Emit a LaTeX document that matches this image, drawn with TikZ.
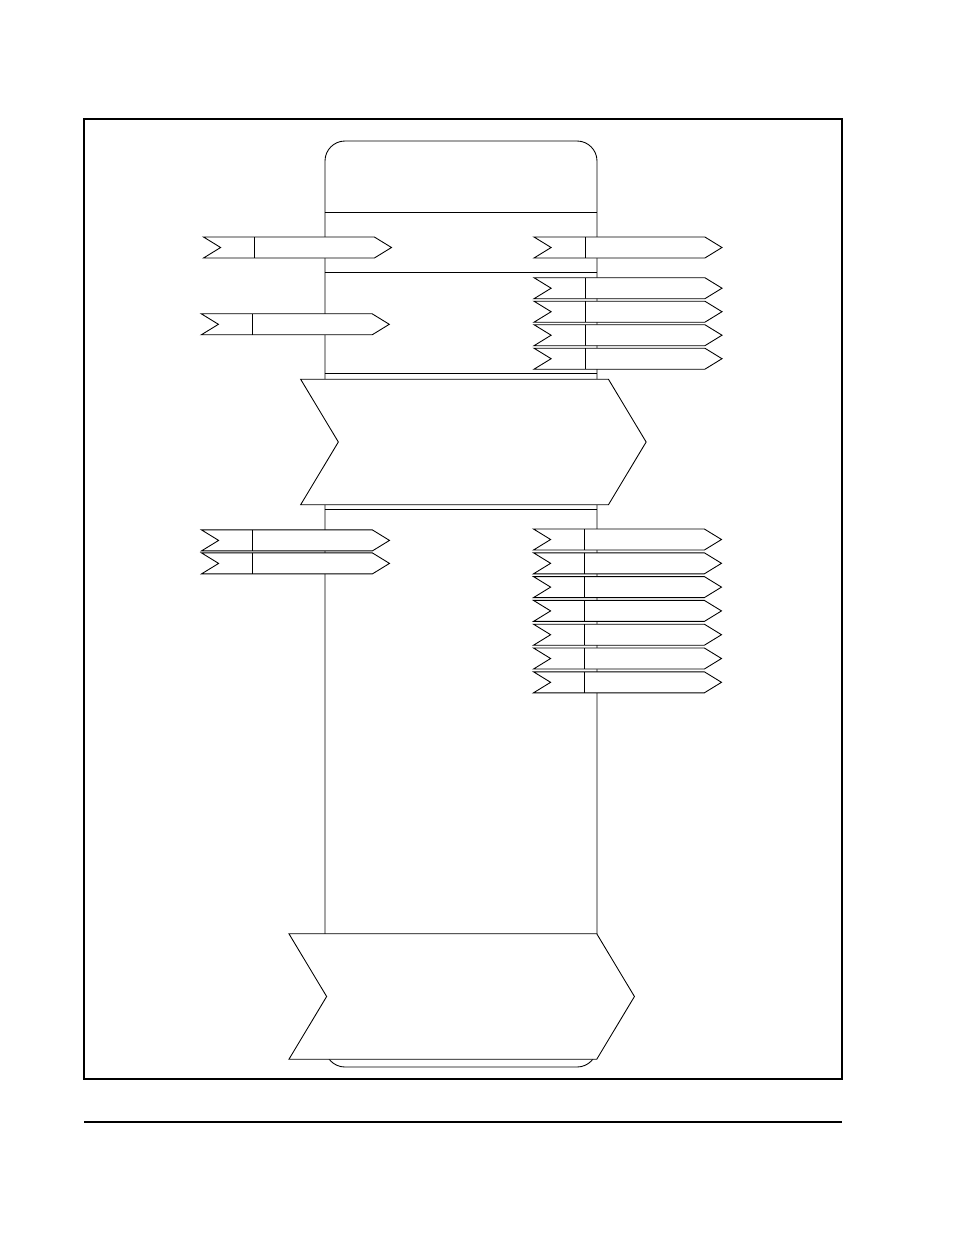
\documentclass[tikz,border=0pt]{standalone}
\usetikzlibrary{shapes.symbols,positioning}

\tikzset{
  tag/.style={draw,fill=white,signal,signal from=west,signal to=east,
    signal pointer angle=63,minimum width=37.6mm,minimum height=4.2mm,inner sep=0pt,
    path picture={\draw ([xshift=10.2mm]path picture bounding box.north west)
      -- ([xshift=10.2mm]path picture bounding box.south west);}},
  stage/.style={draw,fill=white,signal,signal from=west,signal to=east,
    signal pointer angle=118,minimum width=69.1mm,minimum height=25.1mm,inner sep=0pt},
  gap/.style={fill=white}
}

\begin{document}
\begin{tikzpicture}[x=0.2mm,y=-0.2mm,line width=0.5pt,on grid]
\useasboundingbox (0,0) rectangle (954,1235);
\draw[line width=0.8pt] (84,119) rectangle (842,1079);
\draw[line width=0.8pt] (84,1122) -- (842,1122);

% column
\node[draw,rounded corners=4mm,minimum width=54.4mm,minimum height=185.2mm,inner sep=0pt] (column) at (461,604) {};
\foreach \y in {212,272,373,509}
  \draw (column.west |- 0,\y) -- (column.east |- 0,\y);

% upper tags
\node[tag] (in1) at (297.5,247.5) {};
\node[tag] (in2) at (295.3,324.3) {};
\node[tag] (out1) at (628,247.5) {};
\node[tag] (out2) at (628,288.2) {};
\node[tag] (out3) [below=4.7mm of out2] {};
\node[tag] (out4) [below=4.7mm of out3] {};
\node[tag] (out5) [below=4.7mm of out4] {};

% column is cut where the stages sit
\fill[gap] (300.7,379) rectangle (646,505);
\node[stage] (stage1) at (473.4,442) {};

% lower tags
\node[tag] (in3) at (295.5,540.4) {};
\node[tag] (in4) [below=4.6mm of in3] {};
\node[tag] (out6) at (627.5,539.5) {};
\node[tag] (out7) [below=4.76mm of out6] {};
\node[tag] (out8) [below=4.76mm of out7] {};
\node[tag] (out9) [below=4.76mm of out8] {};
\node[tag] (out10) [below=4.76mm of out9] {};
\node[tag] (out11) [below=4.76mm of out10] {};
\node[tag] (out12) [below=4.76mm of out11] {};

\fill[gap] (289,934) rectangle (634.3,1059);
\node[stage] (stage2) at (461.7,996.5) {};
\end{tikzpicture}
\end{document}
